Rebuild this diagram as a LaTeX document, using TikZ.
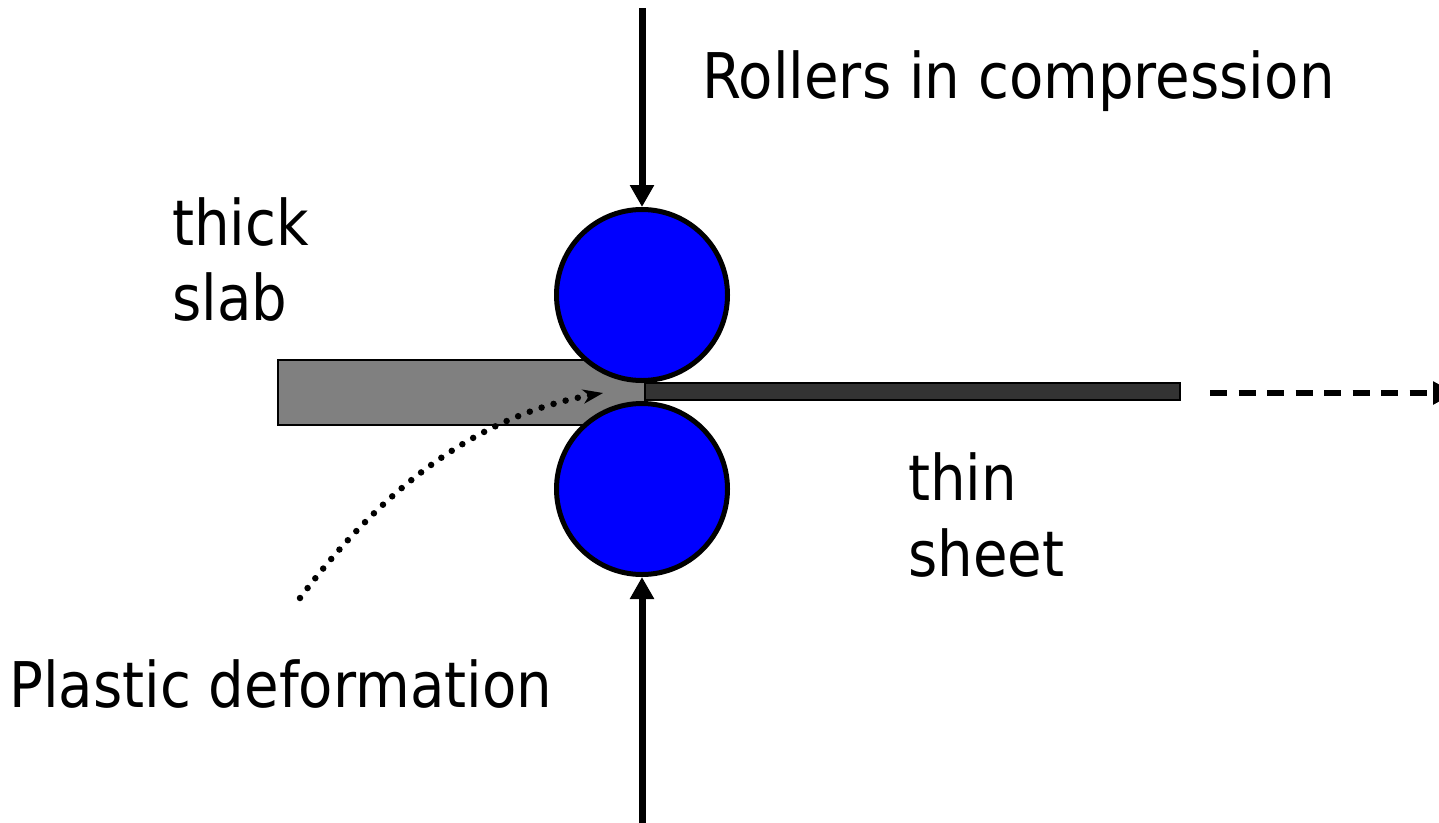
\documentclass[tikz,border=0pt]{standalone}
\usepackage{fontspec}
\setmainfont{DejaVu Sans}
\usetikzlibrary{arrows.meta}
\newcommand{\sx}[1]{\scalebox{0.892}[1]{#1}}
\definecolor{rollblue}{RGB}{0,0,255}
\definecolor{slabgray}{RGB}{128,128,128}
\definecolor{sheetgray}{RGB}{51,51,51}
\tikzset{
  lbl/.style={inner sep=0pt, font=\fontsize{63}{76}\selectfont, align=left},
  roller/.style={circle, draw=black, line width=5pt, fill=rollblue, minimum size=171pt, inner sep=0pt},
  force/.style={line width=7pt, -{Triangle[length=22pt,width=23pt]}},
  slabbox/.style={draw=black, line width=2.5pt, fill=slabgray},
  sheetbox/.style={draw=black, line width=2pt, fill=sheetgray},
}
\begin{document}
\begin{tikzpicture}[x=1pt,y=-1pt]
\useasboundingbox (0,0) rectangle (1439,822);
\clip (0,0) rectangle (1439,822);
% slab and sheet
\draw[slabbox] (278,360) rectangle (645,425);
\draw[sheetbox] (645,383) rectangle (1180,400);
\coordinate (sheetE) at (1210,393);
\coordinate (outE) at (1455,393);
% rollers
\node[roller] (top) at (642,295) {};
\node[roller] (bot) at (642,489) {};
% forces
\coordinate (topS) at (642,8);
\coordinate (botS) at (642,830);
\draw[force] (topS) -- (top.north);
\draw[force] (botS) -- (bot.south);
% output
\draw[line width=5.5pt, dash pattern=on 17pt off 11.5pt, -{Triangle[length=22pt,width=22pt]}] (sheetE) -- (outE);
% labels
\node[lbl, anchor=base west] (roll) at (702,98) {\sx{Rollers in compression}};
\node[lbl, anchor=base west] (thick) at (172,245) {\sx{thick}};
\node[lbl, anchor=base west] (slab) at (172,320) {\sx{slab}};
\node[lbl, anchor=base west] (thin) at (908,500) {\sx{thin}};
\node[lbl, anchor=base west] (sheet) at (908,576) {\sx{sheet}};
\node[lbl, anchor=base west] (plastic) at (9,707) {\sx{Plastic deformation}};
% plastic deformation arrow
\coordinate (pS) at (300,598);
\coordinate (pE) at (603,393);
\draw[line width=6.5pt, line cap=round, dash pattern=on 0pt off 12.5pt, -{Stealth[length=20pt,width=14pt,inset=6pt]}] (pS) .. controls (385,485) and (480,415) .. (pE);
\end{tikzpicture}
\end{document}
